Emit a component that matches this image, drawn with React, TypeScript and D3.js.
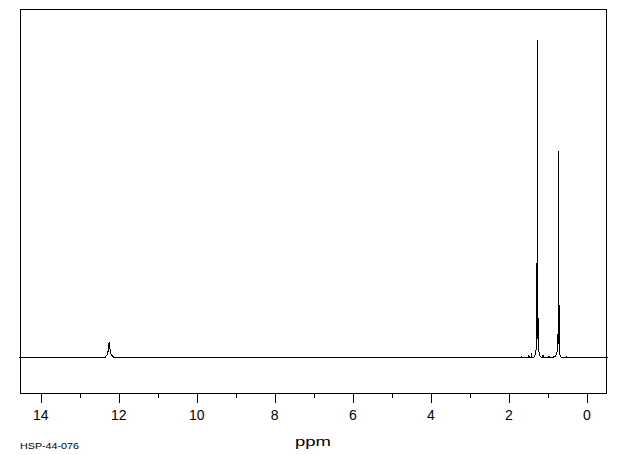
import React from "react";
import * as d3 from "d3";

// Spectrum trace: chemical shift (ppm) and relative intensity (%)
const shiftPpm: number[] = [
  14.55, 12.40, 12.34, 12.30, 12.27, 12.255, 12.245, 12.235, 12.22, 12.19, 12.15, 12.10, 12.03,
  1.7, 1.675, 1.65, 1.5, 1.487, 1.475, 1.43, 1.418, 1.405, 1.36, 1.33, 1.31,
  1.2925, 1.2914, 1.2903, 1.2669, 1.2658, 1.2647, 1.2413, 1.2402, 1.2391,
  1.23, 1.21, 1.18, 1.15, 1.128, 1.11, 0.99, 0.974, 0.96, 0.86, 0.846, 0.82, 0.80, 0.78,
  0.7541, 0.753, 0.7519, 0.7285, 0.7274, 0.7263, 0.7029, 0.7018, 0.7007,
  0.69, 0.67, 0.64, 0.54, 0.528, 0.515, -0.55,
];
const intensity: number[] = [
  0, 0, 0.3, 0.9, 2.2, 3.8, 5.1, 4.5, 2.5, 1.0, 0.4, 0.1, 0,
  0, 0.4, 0, 0, 1.0, 0, 0, 1.7, 0, 0.2, 0.8, 2.1,
  3, 29.9, 5, 7, 100, 9, 10, 12.7, 3,
  2, 0.8, 0.3, 0, 1.0, 0, 0, 0.6, 0, 0, 0.5, 0.3, 0.5, 1.2,
  2.5, 7.6, 4, 5, 65.1, 5, 4, 16.7, 2,
  1.0, 0.3, 0, 0, 0.6, 0, 0,
];

const majorTicks: number[] = [14, 12, 10, 8, 6, 4, 2, 0];
const minorTicks: number[] = [13, 11, 9, 7, 5, 3, 1];
const xTitle = "ppm";
const sampleId = "HSP-44-076";

const W = 620;
const H = 455;
const left = 20;
const right = 606;
const top = 9;
const bottom = 393;

export default function App() {
  const x = d3.scaleLinear().domain([14.53, -0.49]).range([left, right]);
  const y = d3.scaleLinear().domain([-11, 109.6]).range([bottom, top]);
  const pts = shiftPpm.map((p, i) => [p, intensity[i]] as [number, number]);
  const line = d3
    .line<[number, number]>()
    .x((d) => x(d[0]))
    .y((d) => y(d[1]));

  const font = "'Liberation Sans', Arial, sans-serif";

  return (
    <svg
      width={W}
      height={H}
      style={{ position: "absolute", left: 0, top: 0, background: "#fff" }}
    >
      <rect x={0} y={0} width={W} height={H} fill="#fff" />
      <rect
        x={left + 0.5}
        y={top + 0.5}
        width={right - left}
        height={bottom - top}
        fill="none"
        stroke="#000"
        strokeWidth={1}
        shapeRendering="crispEdges"
      />
      <path
        d={line(pts) || ""}
        fill="none"
        stroke="#000"
        strokeWidth={1}
        shapeRendering="crispEdges"
      />
      {majorTicks.map((t) => (
        <g key={"M" + t}>
          <line
            x1={Math.round(x(t)) + 0.5}
            x2={Math.round(x(t)) + 0.5}
            y1={bottom}
            y2={bottom + 10}
            stroke="#000"
            strokeWidth={1}
            shapeRendering="crispEdges"
          />
          <text
            x={x(t)}
            y={419.5}
            textAnchor="middle"
            fontFamily={font}
            fontSize={14}
            fill="#000"
          >
            {t}
          </text>
        </g>
      ))}
      {minorTicks.map((t) => (
        <line
          key={"m" + t}
          x1={Math.round(x(t)) + 0.5}
          x2={Math.round(x(t)) + 0.5}
          y1={bottom}
          y2={bottom + 5}
          stroke="#000"
          strokeWidth={1}
          shapeRendering="crispEdges"
        />
      ))}
      <text
        x={295}
        y={445.5}
        fontFamily={font}
        fontSize={13}
        textLength={36}
        lengthAdjust="spacingAndGlyphs"
        fill="#000"
      >
        {xTitle}
      </text>
      <text
        x={20}
        y={448.5}
        fontFamily={font}
        fontSize={9.3}
        textLength={59}
        lengthAdjust="spacingAndGlyphs"
        fill="#000"
      >
        {sampleId}
      </text>
    </svg>
  );
}
